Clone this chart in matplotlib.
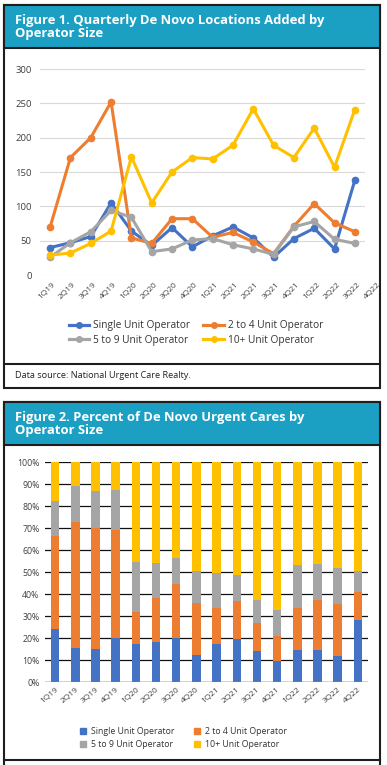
import matplotlib.pyplot as plt
from matplotlib.patches import Rectangle
from matplotlib.lines import Line2D
import matplotlib.transforms as mtransforms

# ---- data ----
quarters = ["1Q19", "2Q19", "3Q19", "4Q19", "1Q20", "2Q20", "3Q20", "4Q20",
            "1Q21", "2Q21", "3Q21", "4Q21", "1Q22", "2Q22", "3Q22", "4Q22"]
# the line chart in the source carries 17 axis labels (2Q21 appears twice)
line_labels = ["1Q19", "2Q19", "3Q19", "4Q19", "1Q20", "2Q20", "3Q20", "4Q20",
               "1Q21", "2Q21", "2Q21", "3Q21", "4Q21", "1Q22", "2Q22", "3Q22", "4Q22"]
series_names = ["Single Unit Operator", "2 to 4 Unit Operator",
                "5 to 9 Unit Operator", "10+ Unit Operator"]

single_cnt = [40, 47, 56, 105, 64, 43, 69, 41, 57, 70, 54, 26, 53, 68, 38, 138]
two4_cnt = [70, 171, 200, 252, 54, 46, 82, 82, 55, 62, 48, 31, 71, 104, 76, 63]
five9_cnt = [26, 47, 63, 94, 84, 34, 38, 51, 53, 44, 38, 30, 70, 78, 52, 46]
ten_cnt = [29, 32, 46, 64, 172, 105, 150, 171, 169, 189, 242, 189, 171, 214, 157, 241]

single_pct = [24.2, 15.4, 15.0, 19.9, 17.1, 18.1, 19.9, 12.4,
              17.4, 19.5, 14.2, 9.4, 14.4, 14.7, 11.9, 28.2]
two4_pct = [42.1, 57.4, 54.8, 49.1, 14.6, 20.3, 24.7, 23.7,
            16.1, 17.1, 12.4, 11.7, 19.4, 22.6, 23.4, 12.9]
five9_pct = [15.9, 16.3, 16.9, 18.2, 22.7, 15.5, 11.6, 14.5,
             15.9, 12.0, 10.7, 11.7, 19.4, 16.3, 16.4, 9.5]
ten_pct = [17.8, 10.9, 13.3, 12.8, 45.6, 46.1, 43.8, 49.4,
           50.6, 51.4, 62.7, 67.2, 46.8, 46.4, 48.3, 49.4]

colors = ["#4472C4", "#ED7D31", "#A5A5A5", "#FFC000"]
teal = "#1BA0C3"
dark = "#1e1e1e"
txt = "#404040"

plt.rcParams['font.family'] = ['Open Sans', 'DejaVu Sans']

W, H = 387, 765
fig = plt.figure(figsize=(W / 100, H / 100), dpi=100)


def fx(px):
    return px / W


def fy(py):
    return 1 - py / H


def box(x0, y0, x1, y1, **kw):
    fig.patches.append(Rectangle((fx(x0), fy(y1)), fx(x1) - fx(x0), fy(y0) - fy(y1),
                                 transform=fig.transFigure, zorder=-5, **kw))


def hline(y, x0=4, x1=380):
    fig.lines.append(Line2D([fx(x0), fx(x1)], [fy(y), fy(y)], transform=fig.transFigure,
                            color=dark, lw=1.5, zorder=-4))


# panel frames and title bands
box(4, 5, 380, 388, facecolor="white", edgecolor=dark, lw=1.5)
box(4, 5, 380, 48, facecolor=teal, edgecolor=dark, lw=1.5)
hline(364)
box(4, 402, 380, 770, facecolor="white", edgecolor=dark, lw=1.5)
box(4, 402, 380, 445, facecolor=teal, edgecolor=dark, lw=1.5)
hline(760)

fig.text(fx(15), fy(27), "Figure 1. Quarterly De Novo Locations Added by\nOperator Size",
         color="white", fontsize=9.4, fontweight="bold", va="center", ha="left", linespacing=1.05)
fig.text(fx(15), fy(424), "Figure 2. Percent of De Novo Urgent Cares by\nOperator Size",
         color="white", fontsize=9.4, fontweight="bold", va="center", ha="left", linespacing=1.05)
fig.text(fx(15), fy(376), "Data source: National Urgent Care Realty.",
         color="#222222", fontsize=6.6, va="center", ha="left")

# ---- Figure 1: line chart ----
ax1 = fig.add_axes([fx(40), fy(275), (365 - 40) / W, (275 - 69) / H])
x = list(range(len(quarters)))
for vals, c in zip([single_cnt, two4_cnt, five9_cnt, ten_cnt], colors):
    ax1.plot(x, vals, color=c, lw=2.2, marker="o", ms=4.5, solid_joinstyle="round")
ax1.set_xlim(-0.5, len(quarters) - 0.5)
ax1.set_ylim(0, 300)
ax1.set_yticks(range(0, 301, 50))
ax1.grid(axis="y", color="#d9d9d9", lw=0.8)
ax1.set_axisbelow(True)
for s in ax1.spines.values():
    s.set_visible(False)
ax1.tick_params(axis="y", length=0, labelsize=6.8, labelcolor=txt, pad=6)
ax1.set_xticks([])
trans = mtransforms.blended_transform_factory(ax1.transData, ax1.transAxes)
for i, lab in enumerate(line_labels):
    ax1.text(i + 0.1, -0.03, lab, transform=trans, rotation=45, ha="right", va="top",
             rotation_mode="anchor", fontsize=6, color=txt, clip_on=False)

# legend filled row by row: Single, 2 to 4 / 5 to 9, 10+
order = [0, 2, 1, 3]
h1 = [Line2D([], [], color=colors[i], lw=2.3, marker="o", ms=4) for i in order]
fig.legend(h1, [series_names[i] for i in order], loc="center",
           bbox_to_anchor=(fx(196), fy(333)), ncol=2,
           frameon=False, fontsize=7.3, handlelength=2.0, columnspacing=1.3,
           handletextpad=0.4, labelspacing=0.35, labelcolor="#333333")

# ---- Figure 2: stacked bars ----
ax2 = fig.add_axes([fx(45), fy(682), (368 - 45) / W, (682 - 462) / H])
bottom = [0.0] * len(quarters)
for vals, c in zip([single_pct, two4_pct, five9_pct, ten_pct], colors):
    ax2.bar(x, vals, bottom=bottom, width=0.42, color=c, zorder=2)
    bottom = [b + v for b, v in zip(bottom, vals)]
ax2.set_xlim(-0.5, len(quarters) - 0.5)
ax2.set_ylim(0, 100)
ax2.set_yticks(range(0, 101, 10))
ax2.set_yticklabels([f"{v}%" for v in range(0, 101, 10)])
ax2.grid(axis="y", color="#111111", lw=0.9)
ax2.set_axisbelow(True)
for s in ax2.spines.values():
    s.set_visible(False)
ax2.axhline(0, color="#9a9a9a", lw=1, zorder=3)
ax2.tick_params(axis="y", length=0, labelsize=6.3, labelcolor=txt, pad=4)
ax2.set_xticks(x)
ax2.set_xticklabels(quarters, rotation=40, ha="right", rotation_mode="anchor",
                    fontsize=6, color=txt)
ax2.tick_params(axis="x", length=0, pad=3)

h2 = [Line2D([], [], color=colors[i], lw=0, marker="s", ms=4) for i in order]
fig.legend(h2, [series_names[i] for i in order], loc="center",
           bbox_to_anchor=(fx(183), fy(738)), ncol=2,
           frameon=False, fontsize=6.3, handlelength=0.8, columnspacing=2.2,
           handletextpad=0.5, labelspacing=0.45, labelcolor="#333333")

fig.savefig("out.png", dpi=100)
